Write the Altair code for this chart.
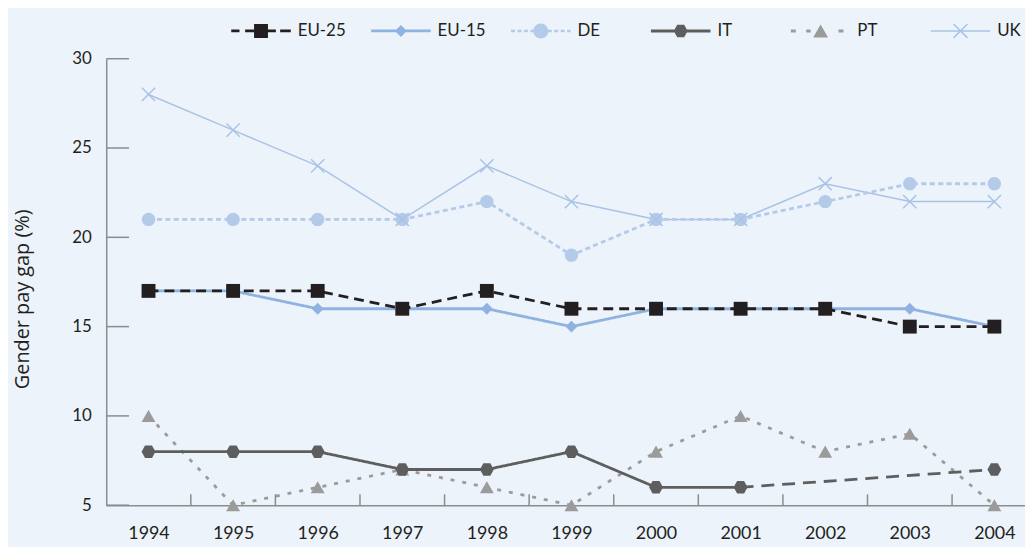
import math
import altair as alt
import pandas as pd

# ---------------- data ----------------
years = list(range(1994, 2005))
series_names = ["EU-25", "EU-15", "DE", "IT", "PT", "UK"]
eu25 = [17, 17, 17, 16, 17, 16, 16, 16, 16, 15, 15]
eu15 = [17, 17, 16, 16, 16, 15, 16, 16, 16, 16, 15]
de = [21, 21, 21, 21, 22, 19, 21, 21, 22, 23, 23]
it = [8, 8, 8, 7, 7, 8, 6, 6, None, None, 7]
pt = [10, 5, 6, 7, 6, 5, 8, 10, 8, 9, 5]
uk = [28, 26, 24, 21, 24, 22, 21, 21, 23, 22, 22]
y_tick_values = [5, 10, 15, 20, 25, 30]
y_title = "Gender pay gap (%)"

values = {"EU-25": eu25, "EU-15": eu15, "DE": de, "IT": it, "PT": pt, "UK": uk}
draw_order = ["UK", "DE", "EU-15", "EU-25", "PT", "IT"]

# ---------------- styles ----------------
colors = ["#231F20", "#8FB2E0", "#B4CAE9", "#5E5E5E", "#9B9B9B", "#A9C3E6"]
style_domain = series_names + ["IT gap"]
dash_range = [[10, 6], [1, 0], [5, 3.5], [1, 0], [4, 8], [1, 0], [13, 8]]
FONT = "Lato"
TITLE_FONT = "Open Sans"
TEXT = "#231F20"
AXIS = "#8C8C8C"
BG = "#ECF3FA"
PLOT_W, PLOT_H = 926, 450
PX_PER_YEAR = 85.25

# ---------------- tables ----------------
line_rows, point_rows = [], []
run_id = 0
for s in draw_order:
    run_id += 1
    prev, gap = None, False
    for yr, v in zip(years, values[s]):
        if v is None:
            gap = True
            continue
        if gap and prev is not None:
            run_id += 1
            line_rows.append({"year": prev[0], "value": prev[1], "series": s, "style": s + " gap", "run": run_id})
            line_rows.append({"year": yr, "value": v, "series": s, "style": s + " gap", "run": run_id})
            run_id += 1
            gap = False
        line_rows.append({"year": yr, "value": v, "series": s, "style": s, "run": run_id})
        point_rows.append({"year": yr, "value": v, "series": s})
        prev = (yr, v)

lines_df = pd.DataFrame(line_rows)
points_df = pd.DataFrame(point_rows)
ytick_df = pd.DataFrame({"value": y_tick_values})
xtick_df = pd.DataFrame({"year": [y + 0.5 for y in years[:-1]]})

# ---------------- marker shapes (unit box, drawn at size 196 = 14px) ----------------
def fmt(v):
    return f"{v:.4f}"

circle_r = 0.96
marker_paths = [
    "square",
    "M-0.86,0L0,-0.86L0.86,0L0,0.86Z",
    f"M-{circle_r},0A{circle_r},{circle_r},0,1,1,{circle_r},0A{circle_r},{circle_r},0,1,1,-{circle_r},0Z",
    "M-1,0L-0.5,-0.9L0.5,-0.9L1,0L0.5,0.9L-0.5,0.9Z",
    "triangle-up",
    "M-0.95,-0.95L0.95,0.95M-0.95,0.95L0.95,-0.95",
]
x_cross = marker_paths[5]

# ---------------- legend symbols (60px wide; 1 unit = 30px) ----------------
U = 30.0

def u(v):
    return fmt(v / U)

def rect(x0, x1, h):
    return f"M{u(x0)},{u(-h)}L{u(x1)},{u(-h)}L{u(x1)},{u(h)}L{u(x0)},{u(h)}Z"

def poly(pts):
    return "M" + "L".join(f"{u(x)},{u(y)}" for x, y in pts) + "Z"

def circ(r):
    return f"M{u(-r)},0A{u(r)},{u(r)},0,1,1,{u(r)},0A{u(r)},{u(r)},0,1,1,{u(-r)},0Z"

def dashes(x0, x1, d, g, h):
    out, x = [], x0
    while x < x1 - 0.5:
        out.append(rect(x, min(x + d, x1), h))
        x += d + g
    return "".join(out)

def xarm(a, t):
    d = t / 2 / math.sqrt(2)
    p1 = poly([(-a + d, -a - d), (a + d, a - d), (a - d, a + d), (-a - d, -a + d)])
    p2 = poly([(a - d, -a - d), (a + d, -a + d), (-a + d, a + d), (-a - d, a - d)])
    return p1 + p2

legend_paths = [
    rect(-30, -21.7, 1.4) + rect(-16, -7, 1.4) + rect(-7, 7, 7) + rect(7, 15, 1.4) + rect(19.3, 30, 1.4),
    rect(-30, 30, 1.4) + poly([(-6, 0), (0, -6), (6, 0), (0, 6)]),
    dashes(-30, -7, 4, 2.5, 1.3) + circ(7.5) + dashes(7, 30, 4, 2.5, 1.3),
    rect(-30, 30, 1.5) + poly([(-7, 0), (-3.5, -6.3), (3.5, -6.3), (7, 0), (3.5, 6.3), (-3.5, 6.3)]),
    rect(-30, -25, 1.5) + rect(-14.5, -10, 1.5) + poly([(0, -6.5), (7.5, 6.5), (-7.5, 6.5)]) + rect(18, 23, 1.5),
    rect(-30, 30, 0.75) + xarm(7, 1.5),
]

# ---------------- scales / encodings ----------------
x_scale = alt.Scale(domain=[years[0] - 0.5, years[0] - 0.5 + PLOT_W / PX_PER_YEAR], nice=False, zero=False)
y_scale = alt.Scale(domain=[y_tick_values[0], y_tick_values[-1]], nice=False, zero=False)
color_scale = alt.Scale(domain=series_names, range=colors)

x_axis = alt.Axis(values=years, format="d", title=None, labelFontSize=18, labelPadding=20,
                  labelFlush=False)
y_axis = alt.Axis(values=y_tick_values, title=y_title, labelFontSize=17, labelPadding=15,
                  titleX=-84, titleY=242, titleBaseline="middle")

X = alt.X("year:Q", scale=x_scale, axis=x_axis)
Y = alt.Y("value:Q", scale=y_scale, axis=y_axis)

legend = alt.Legend(title=None, orient="none", legendX=126, legendY=-58, direction="horizontal",
                    columns=6, gridAlign="all", columnPadding=25, labelOffset=7, padding=0,
                    symbolSize=3600, symbolStrokeWidth=0, symbolOpacity=1,
                    labelFont=FONT, labelFontSize=17, labelColor=TEXT, labelLimit=200)

# ---------------- layers ----------------
main_lines = alt.Chart(lines_df).transform_filter(alt.datum.series != "UK").mark_line(strokeWidth=2.8).encode(
    x=X, y=Y,
    color=alt.Color("series:N", scale=color_scale, legend=None),
    strokeDash=alt.StrokeDash("style:N", scale=alt.Scale(domain=style_domain, range=dash_range), legend=None),
    detail="run:N")

y_ticks = alt.Chart(ytick_df).mark_rule(color=AXIS, strokeWidth=1.5).encode(
    y=Y, x=alt.value(0), x2=alt.value(23))
x_ticks = alt.Chart(xtick_df).mark_rule(color=AXIS, strokeWidth=1.5).encode(
    x=X, y=alt.value(PLOT_H - 11), y2=alt.value(PLOT_H))

uk_line = alt.Chart(lines_df).transform_filter(alt.datum.series == "UK").mark_line(strokeWidth=1.5).encode(
    x=X, y=Y,
    color=alt.Color("series:N", scale=color_scale, legend=None),
    detail="run:N")

points = alt.Chart(points_df).transform_filter(alt.datum.series != "UK").mark_point(
    filled=True, size=196, opacity=1, strokeWidth=0).encode(
    x=X, y=Y,
    color=alt.Color("series:N", scale=color_scale, legend=None),
    shape=alt.Shape("series:N", scale=alt.Scale(domain=series_names, range=marker_paths), legend=None))

uk_points = alt.Chart(points_df).transform_filter(alt.datum.series == "UK").mark_point(
    filled=False, shape=x_cross, size=196, opacity=1, strokeWidth=1.5, color=colors[5]).encode(
    x=X, y=Y)

legend_layer = alt.Chart(points_df).transform_filter("false").mark_point(
    filled=True, size=3600, opacity=1, strokeWidth=0).encode(
    x=X, y=Y,
    color=alt.Color("series:N", scale=color_scale, legend=legend),
    shape=alt.Shape("series:N", scale=alt.Scale(domain=series_names, range=legend_paths), legend=legend))

chart = alt.layer(y_ticks, x_ticks, uk_line, main_lines, points, uk_points, legend_layer).resolve_scale(
    color="independent", shape="independent"
).properties(
    width=PLOT_W, height=PLOT_H,
    autosize=alt.AutoSizeParams(type="none"),
    padding={"left": 99, "top": 49, "right": 0, "bottom": 40},
    background=BG,
).configure_view(stroke=None).configure_axis(
    ticks=False, grid=False, domainColor=AXIS, domainWidth=1.5,
    labelFont=FONT, labelColor=TEXT,
    titleFont=TITLE_FONT, titleFontSize=20, titleFontWeight="normal", titleColor=TEXT,
)

chart.save("out.html", embed_options={"renderer": "svg", "actions": False})
